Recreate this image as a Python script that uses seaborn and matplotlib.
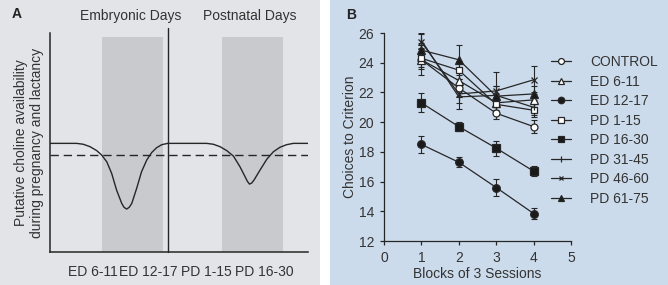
import matplotlib
matplotlib.use("Agg")
import matplotlib.pyplot as plt
import seaborn as sns
import pandas as pd
from matplotlib.patches import Rectangle

sns.set_theme(style="white")
plt.rcParams['font.family'] = ['Liberation Sans', 'DejaVu Sans']

# ---------------- Panel A data (schematic) ----------------
curve_x = [0, 10.3, 12.9, 15.5, 18.1, 20.0, 22.0, 23.9, 25.8, 27.8, 28.7, 29.7, 30.7, 31.7,
           33.6, 35.5, 37.5, 39.4, 41.3, 43.3, 45.6, 60.7, 63.3, 65.9, 68.5, 71.1, 73.6,
           75.6, 76.5, 77.3, 78.2, 79.1, 81.4, 84.0, 86.6, 89.1, 91.7, 94.3, 100]
curve_y = [49.6, 49.6, 49.2, 48.1, 46.3, 44.3, 41.2, 35.9, 28.3, 22.2, 20.4, 19.6, 20.4, 22.2,
           29.1, 36.7, 42.0, 45.4, 47.6, 49.0, 49.6, 49.6, 49.2, 48.1, 46.3, 43.8, 39.0,
           34.4, 32.3, 31.0, 31.5, 32.9, 37.4, 42.3, 45.8, 47.8, 49.0, 49.6, 49.6]
dashed_level = 44.3
bands = [(20.2, 43.8), (66.7, 90.3)]
divider_x = 45.7
period_labels = ["ED 6-11", "ED 12-17", "PD 1-15", "PD 16-30"]
period_pos = [16.6, 38.0, 60.6, 83.0]
header_labels = ["Embryonic Days", "Postnatal Days"]
header_pos = [31.2, 77.5]

# ---------------- Panel B data ----------------
blocks = [1, 2, 3, 4]
groups = ["CONTROL", "ED 6-11", "ED 12-17", "PD 1-15", "PD 16-30", "PD 31-45", "PD 46-60", "PD 61-75"]
control = [24.2, 22.3, 20.6, 19.7]
control_err = [0.6, 0.6, 0.4, 0.45]
ed611 = [24.2, 22.8, 21.3, 21.5]
ed611_err = [1.0, 0.7, 0.6, 0.5]
ed1217 = [18.5, 17.3, 15.6, 13.85]
ed1217_err = [0.55, 0.35, 0.55, 0.35]
pd115 = [24.3, 23.5, 21.2, 20.8]
pd115_err = [0.6, 0.6, 0.5, 0.45]
pd1630 = [21.3, 19.7, 18.25, 16.7]
pd1630_err = [0.65, 0.3, 0.5, 0.33]
pd3145 = [25.5, 21.7, 21.8, 21.0]
pd3145_err = [0.5, 0.8, 0.6, 0.5]
pd4660 = [25.4, 21.9, 22.1, 22.85]
pd4660_err = [0.5, 0.6, 1.3, 0.95]
pd6175 = [24.85, 24.2, 21.75, 21.9]
pd6175_err = [0.5, 1.0, 0.7, 0.5]

values = [control, ed611, ed1217, pd115, pd1630, pd3145, pd4660, pd6175]
errors = [control_err, ed611_err, ed1217_err, pd115_err, pd1630_err, pd3145_err, pd4660_err, pd6175_err]

rows = []
for g, vals, errs in zip(groups, values, errors):
    for b, v, e in zip(blocks, vals, errs):
        rows.append({"group": g, "block": b, "choices": v, "err": e})
df = pd.DataFrame(rows)

styles = {
    "CONTROL": dict(marker="o", mfc="white", ms=5),
    "ED 6-11": dict(marker="^", mfc="white", ms=5.5),
    "ED 12-17": dict(marker="o", mfc="#1a1a1a", ms=5.5),
    "PD 1-15": dict(marker="s", mfc="white", ms=5),
    "PD 16-30": dict(marker="s", mfc="#1a1a1a", ms=5.5),
    "PD 31-45": dict(marker="|", mfc="#1a1a1a", ms=5),
    "PD 46-60": dict(marker="x", mfc="#1a1a1a", ms=4),
    "PD 61-75": dict(marker="^", mfc="#1a1a1a", ms=5.5),
}

# ---------------- Figure ----------------
W, H = 668, 285
fig = plt.figure(figsize=(W / 100, H / 100), dpi=100)
fig.patch.set_facecolor("white")
fig.patches.append(Rectangle((0, 0), 320 / W, 1, transform=fig.transFigure,
                             facecolor="#e3e4e8", edgecolor="none", zorder=-10))
fig.patches.append(Rectangle((330 / W, 0), (W - 330) / W, 1, transform=fig.transFigure,
                             facecolor="#ccdbeb", edgecolor="none", zorder=-10))

txt = "#333333"
line_c = "#262626"

# ---------------- Panel A ----------------
axA = fig.add_axes([50 / W, 1 - 252 / H, (308 - 50) / W, (252 - 33) / H])
axA.set_facecolor("none")
axA.set_xlim(0, 100)
axA.set_ylim(0, 100)
for x0, x1 in bands:
    axA.add_patch(Rectangle((x0, 0), x1 - x0, 98.2, facecolor="#c9cacd", edgecolor="none", zorder=0))
axA.plot([divider_x, divider_x], [0, 102.3], color=line_c, lw=1.0, clip_on=False, zorder=3)
sns.lineplot(x=curve_x, y=curve_y, sort=False, color=line_c, lw=1.0, ax=axA, zorder=4)
axA.axhline(dashed_level, color=line_c, lw=1.0, linestyle=(0, (6, 3.5)), zorder=4)
for s in ["top", "right"]:
    axA.spines[s].set_visible(False)
for s in ["left", "bottom"]:
    axA.spines[s].set_color(line_c)
    axA.spines[s].set_linewidth(1.1)
axA.set_yticks([])
axA.set_xticks(period_pos)
axA.set_xticklabels(period_labels, fontsize=10, color=txt)
axA.tick_params(axis="x", length=0, pad=9)
for lab, xp in zip(header_labels, header_pos):
    xf = (50 + xp / 100 * (308 - 50)) / W
    fig.text(xf, 1 - 16 / H, lab, ha="center", va="center", fontsize=10, color=txt)
fig.text(29 / W, 1 - 143 / H, "Putative choline availability\nduring pregnancy and lactancy",
         rotation=90, ha="center", va="center", fontsize=10, color=txt, linespacing=1.25)
fig.text(12 / W, 1 - 14 / H, "A", fontsize=10, fontweight="bold", color="#222222",
         ha="left", va="center")

# ---------------- Panel B ----------------
axB = fig.add_axes([384 / W, 1 - 241 / H, (571 - 384) / W, (241 - 33) / H])
axB.set_facecolor("none")
for g in groups:
    sub = df[df["group"] == g]
    st = styles[g]
    axB.errorbar(sub["block"], sub["choices"], yerr=sub["err"], fmt="none",
                 ecolor=line_c, elinewidth=0.8, capsize=2.2, capthick=0.8, zorder=2)
    sns.lineplot(data=sub, x="block", y="choices", ax=axB, color=line_c, lw=0.9,
                 marker=st["marker"], markersize=st["ms"], markerfacecolor=st["mfc"],
                 markeredgecolor=line_c, markeredgewidth=0.9, label=g, zorder=3)
axB.set_xlim(0, 5)
axB.set_ylim(12, 26)
axB.set_xticks([0, 1, 2, 3, 4, 5])
axB.set_yticks([12, 14, 16, 18, 20, 22, 24, 26])
axB.tick_params(axis="both", direction="out", length=3, width=0.9, color=line_c,
                labelsize=10, labelcolor=txt, pad=4, left=True, bottom=True)
for s in ["top", "right"]:
    axB.spines[s].set_visible(False)
for s in ["left", "bottom"]:
    axB.spines[s].set_color(line_c)
    axB.spines[s].set_linewidth(0.9)
axB.set_xlabel("Blocks of 3 Sessions", fontsize=10, color=txt, labelpad=2)
axB.set_ylabel("Choices to Criterion", fontsize=10, color=txt, labelpad=1)
leg = axB.legend(loc="upper left", bbox_to_anchor=(551 / W, 1 - 55 / H),
                 bbox_transform=fig.transFigure, frameon=False, fontsize=10,
                 handlelength=1.45, handletextpad=1.35, labelspacing=0.4,
                 borderpad=0, borderaxespad=0, markerscale=0.85)
for t in leg.get_texts():
    t.set_color(txt)
fig.text(346 / W, 1 - 15 / H, "B", fontsize=10, fontweight="bold", color="#222222",
         ha="left", va="center")

fig.savefig("out.png", dpi=100, facecolor=fig.get_facecolor())
